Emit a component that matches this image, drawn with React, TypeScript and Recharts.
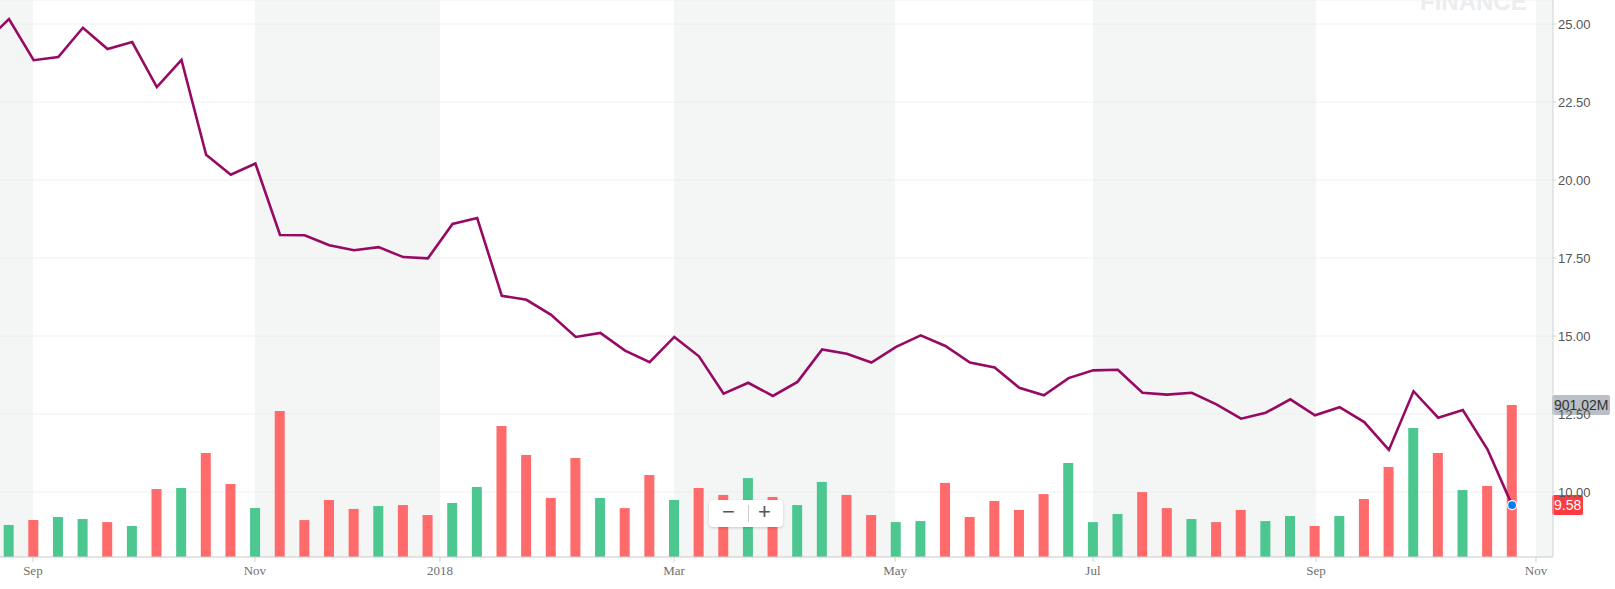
import React from "react";
import {
  ComposedChart,
  Bar,
  Line,
  XAxis,
  YAxis,
  CartesianGrid,
  ReferenceArea,
  ReferenceLine,
  Cell,
} from "recharts";

// weekly closes, first point sits just left of the visible window
const prices = [
  24.39, 25.16, 23.84, 23.94, 24.88, 24.2, 24.42, 22.98, 23.85, 20.81, 20.17,
  20.53, 18.24, 18.23, 17.91, 17.75, 17.85, 17.53, 17.49, 18.59, 18.78,
  16.29, 16.16, 15.68, 14.97, 15.1, 14.53, 14.16, 14.97, 14.35, 13.15,
  13.5, 13.08, 13.53, 14.57, 14.43, 14.15, 14.65, 15.02, 14.68, 14.15,
  13.99, 13.34, 13.1, 13.65, 13.9, 13.92, 13.18, 13.12, 13.18, 12.81,
  12.35, 12.54, 12.97, 12.46, 12.72, 12.24, 11.35, 13.23, 12.38, 12.63,
  11.37, 9.58,
];

// weekly volume, millions
const volumes = [
  null, 190, 219, 237, 225, 207, 184, 403, 409, 617, 433,
  290, 865, 219, 338, 285, 302, 308, 249, 320, 415,
  777, 605, 350, 587, 350, 290, 486, 338, 409, 368,
  468, 356, 308, 445, 368, 249, 207, 213, 439, 237,
  332, 279, 373, 557, 207, 255, 385, 290, 225, 207,
  279, 213, 243, 184, 243, 344, 534, 765, 617, 397,
  421, 901.02,
];

// month boundaries in week units
const monthTicks = [1.97, 10.98, 18.49, 27.99, 36.96, 44.99, 54.04, 62.97];
const monthLabels = ["Sep", "Nov", "2018", "Mar", "May", "Jul", "Sep", "Nov"];
const priceTicks = [10, 12.5, 15, 17.5, 20, 22.5, 25];

const X_DOMAIN: [number, number] = [0.635, 63.66];
const shaded: [number, number][] = [
  [X_DOMAIN[0], monthTicks[0]],
  [monthTicks[1], monthTicks[2]],
  [monthTicks[3], monthTicks[4]],
  [monthTicks[5], monthTicks[6]],
  [monthTicks[7], X_DOMAIN[1]],
];

const UP = "#4cc790";
const DOWN = "#ff6b6b";

const data = prices.map((p, i) => ({
  i,
  price: p,
  volume: volumes[i],
  up: i === 0 || p >= prices[i - 1],
}));

const lastIdx = prices.length - 1;

const Tag = (props: any) => {
  const { viewBox, text, fill, color, w } = props;
  if (!viewBox) return null;
  const x = viewBox.x + viewBox.width - 1;
  const y = viewBox.y;
  return (
    <g>
      <rect x={x} y={y - 10} width={w} height={20} rx={2} fill={fill} />
      <text
        x={x + 2}
        y={y + 5}
        fill={color}
        fontSize={14}
        fontFamily="Liberation Sans, Arial, sans-serif"
      >
        {text}
      </text>
    </g>
  );
};

export default function App() {
  return (
    <div
      style={{
        position: "absolute",
        left: 0,
        top: 0,
        width: 1615,
        height: 589,
        background: "#fff",
        overflow: "hidden",
      }}
    >
      <ComposedChart
        width={1615}
        height={589}
        data={data}
        margin={{ top: 0, right: 0, bottom: 0, left: 0 }}
      >
        {shaded.map(([a, b], k) => (
          <ReferenceArea
            key={k}
            x1={a}
            x2={b}
            yAxisId="price"
            fill="#e4e8e8"
            fillOpacity={0.42}
            stroke="none"
            ifOverflow="hidden"
          />
        ))}
        <CartesianGrid
          yAxisId="price"
          vertical={false}
          stroke="#eeeeee"
          strokeOpacity={0.9}
        />
        <XAxis
          dataKey="i"
          type="number"
          domain={X_DOMAIN}
          allowDataOverflow
          ticks={monthTicks}
          interval={0}
          tickFormatter={(v: number, idx: number) => monthLabels[idx]}
          height={32}
          tickSize={5}
          tickMargin={4}
          stroke="#cfcfcf"
          tick={{ fill: "#6f6f6f", fontSize: 13, fontFamily: "Liberation Serif, Times New Roman, serif" }}
        />
        <YAxis
          yAxisId="price"
          orientation="right"
          width={62}
          domain={[7.917, 25.77]}
          allowDataOverflow
          ticks={priceTicks}
          interval={0}
          tickFormatter={(v: number) => v.toFixed(2)}
          tickSize={3}
          tickMargin={2}
          stroke="#d3d3d3"
          tick={{ fill: "#555", fontSize: 13, fontFamily: "Liberation Sans, Arial, sans-serif", textAnchor: "start" }}
        />
        <YAxis yAxisId="volume" hide domain={[0, 3302]} />
        <Bar
          dataKey="volume"
          yAxisId="volume"
          barSize={10}
          isAnimationActive={false}
        >
          {data.map((d, k) => (
            <Cell key={k} fill={d.up ? UP : DOWN} />
          ))}
        </Bar>
        <Line
          dataKey="price"
          yAxisId="price"
          type="linear"
          stroke="#960a64"
          strokeWidth={2.6}
          isAnimationActive={false}
          dot={(p: any) =>
            p.index === lastIdx ? (
              <circle
                key={`d${p.index}`}
                cx={p.cx}
                cy={p.cy}
                r={4.5}
                fill="#0a7cf0"
                stroke="#fff"
                strokeWidth={1.2}
              />
            ) : (
              <g key={`d${p.index}`} />
            )
          }
          activeDot={false}
        />
        <ReferenceLine
          yAxisId="volume"
          y={volumes[lastIdx] as number}
          stroke="none"
          ifOverflow="visible"
          label={<Tag text="901.02M" fill="#babec5" color="#333" w={58} />}
        />
        <ReferenceLine
          yAxisId="price"
          y={prices[lastIdx]}
          stroke="none"
          ifOverflow="visible"
          label={<Tag text={prices[lastIdx].toFixed(2)} fill="#fb3b3f" color="#fff" w={31} />}
        />
      </ComposedChart>
      <svg
        width={1615}
        height={589}
        style={{ position: "absolute", left: 0, top: 0, pointerEvents: "none" }}
      >
        <text
          x={1420}
          y={10}
          fontSize={24}
          fontWeight={700}
          fill="#ebedf0"
          fontFamily="Liberation Sans, Arial, sans-serif"
        >
          FINANCE
        </text>
      </svg>
      <div
        style={{
          position: "absolute",
          left: 709,
          top: 500,
          width: 74,
          height: 27,
          background: "#fff",
          borderRadius: 4,
          boxShadow: "0 1px 3px rgba(0,0,0,0.18)",
          fontFamily: "Liberation Sans, Arial, sans-serif",
          color: "#555",
          fontSize: 22,
          lineHeight: "27px",
        }}
      >
        <span style={{ position: "absolute", left: 13, top: -2 }}>−</span>
        <div
          style={{
            position: "absolute",
            left: 39,
            top: 5,
            width: 1,
            height: 17,
            background: "#ccc",
          }}
        />
        <span style={{ position: "absolute", left: 49, top: -2 }}>+</span>
      </div>
    </div>
  );
}
